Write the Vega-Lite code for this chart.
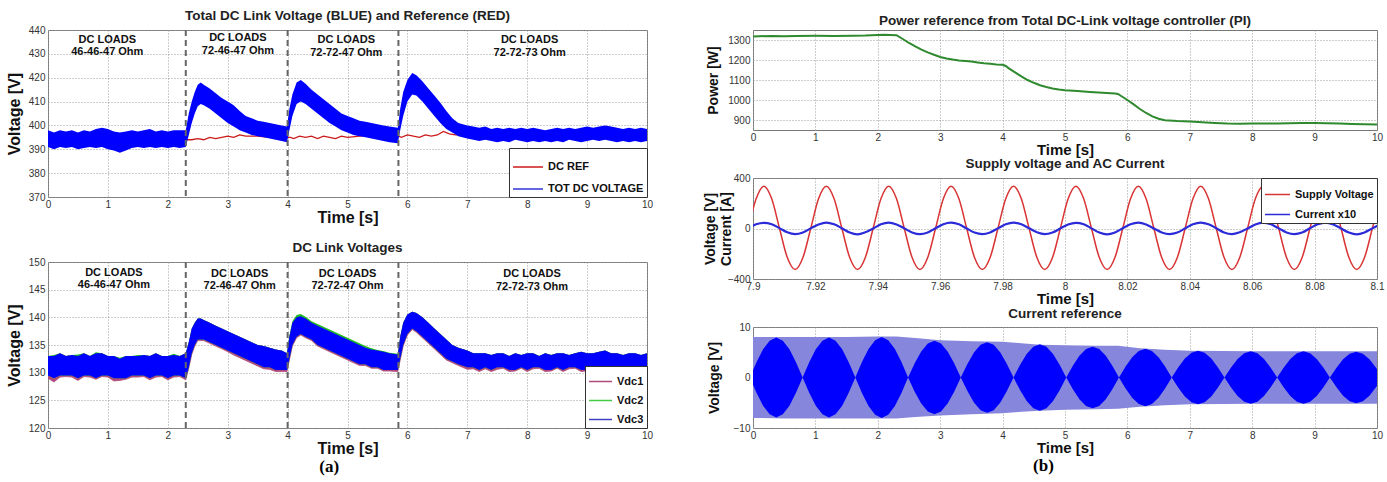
{
"$schema": "https://vega.github.io/schema/vega-lite/v6.json",
"background": "white",
"padding": {"left": 5, "top": 8, "right": 5, "bottom": 2},
"spacing": 48,
"resolve": {"scale": {"color": "independent"}, "legend": {"color": "independent"}},
"config": {
 "font": "Liberation Sans",
 "view": {"stroke": "#777", "strokeWidth": 1},
 "axis": {"domain": false, "ticks": false, "grid": true, "gridColor": "#9a9a9a", "gridDash": [1, 2], "gridWidth": 1, "labelFontSize": 10, "labelColor": "#333", "labelPadding": 3, "labelFlush": false, "labelOverlap": false, "titleFontSize": 16, "titleFontWeight": "bold", "titleColor": "#111"},
 "axisX": {"titlePadding": 0, "labelPadding": 2},
 "axisY": {"titleBaseline": "bottom"},
 "legend": {"offset": 0, "padding": 3, "strokeColor": "#333", "fillColor": "#ffffff", "symbolType": "stroke", "symbolStrokeWidth": 1.5, "labelFontSize": 11, "labelFontWeight": "bold", "labelColor": "#111", "rowPadding": 1, "labelOffset": 4},
 "title": {"fontSize": 13.5, "fontWeight": "bold", "color": "#222", "offset": 3}
},
"datasets": {
 "sw": [{"t": 2.3}, {"t": 4.0}, {"t": 5.85}],
 "p1band": [
  {"t":0,"lo":391,"hi":398},{"t":0.1,"lo":390,"hi":397},{"t":0.2,"lo":391,"hi":398},{"t":0.3,"lo":390.5,"hi":397.5},{"t":0.4,"lo":391,"hi":398},{"t":0.5,"lo":390,"hi":397},{"t":0.6,"lo":390.5,"hi":398},{"t":0.7,"lo":391,"hi":397.5},{"t":0.8,"lo":390.5,"hi":398.5},{"t":0.9,"lo":391,"hi":399},
  {"t":1.0,"lo":390,"hi":398.5},{"t":1.1,"lo":389.5,"hi":397.5},{"t":1.2,"lo":388.5,"hi":397},{"t":1.3,"lo":389.5,"hi":397.5},{"t":1.4,"lo":390.5,"hi":398},{"t":1.5,"lo":391,"hi":397.5},{"t":1.6,"lo":390.5,"hi":398},{"t":1.7,"lo":391,"hi":398.5},{"t":1.8,"lo":390.5,"hi":397.5},{"t":1.9,"lo":391,"hi":398},
  {"t":2.0,"lo":390.5,"hi":397.5},{"t":2.1,"lo":391,"hi":398},{"t":2.2,"lo":390.5,"hi":398},{"t":2.3,"lo":391,"hi":398},{"t":2.35,"lo":396,"hi":405},{"t":2.4,"lo":401,"hi":410},{"t":2.45,"lo":405,"hi":414},{"t":2.5,"lo":408,"hi":417},{"t":2.55,"lo":409,"hi":418},{"t":2.6,"lo":408.5,"hi":417},
  {"t":2.7,"lo":407,"hi":415.5},{"t":2.8,"lo":405,"hi":413.5},{"t":2.9,"lo":403,"hi":411.5},{"t":3.0,"lo":401,"hi":410},{"t":3.1,"lo":399.5,"hi":408.5},{"t":3.2,"lo":398,"hi":406},{"t":3.3,"lo":397,"hi":404},{"t":3.4,"lo":396,"hi":403},{"t":3.5,"lo":395.5,"hi":402},{"t":3.6,"lo":395,"hi":401.5},
  {"t":3.7,"lo":394.5,"hi":401},{"t":3.8,"lo":394,"hi":400.5},{"t":3.9,"lo":393.5,"hi":400},{"t":3.99,"lo":393,"hi":399.5},{"t":4.03,"lo":398,"hi":407},{"t":4.08,"lo":404,"hi":413},{"t":4.15,"lo":409,"hi":418},{"t":4.22,"lo":410,"hi":419},{"t":4.3,"lo":409,"hi":417.5},{"t":4.4,"lo":407,"hi":415},
  {"t":4.5,"lo":405,"hi":413},{"t":4.6,"lo":403,"hi":411},{"t":4.7,"lo":401,"hi":409},{"t":4.8,"lo":399.5,"hi":407},{"t":4.9,"lo":398,"hi":405},{"t":5.0,"lo":397,"hi":404},{"t":5.1,"lo":396,"hi":403},{"t":5.2,"lo":395.5,"hi":402},{"t":5.3,"lo":395,"hi":401.5},{"t":5.4,"lo":394.5,"hi":401},
  {"t":5.5,"lo":394,"hi":400.5},{"t":5.6,"lo":393.5,"hi":400},{"t":5.7,"lo":393,"hi":399.5},{"t":5.84,"lo":392.5,"hi":399},{"t":5.88,"lo":398,"hi":407},{"t":5.93,"lo":404,"hi":414},{"t":6.0,"lo":410,"hi":419},{"t":6.08,"lo":413,"hi":422},{"t":6.15,"lo":412.5,"hi":421},{"t":6.25,"lo":410,"hi":418.5},
  {"t":6.35,"lo":407,"hi":415.5},{"t":6.45,"lo":404,"hi":412.5},{"t":6.55,"lo":401,"hi":409.5},{"t":6.65,"lo":398.5,"hi":406},{"t":6.75,"lo":397,"hi":403},{"t":6.85,"lo":395.5,"hi":401},{"t":7.0,"lo":394.5,"hi":400},{"t":7.1,"lo":394,"hi":399.5},{"t":7.2,"lo":393.5,"hi":399},{"t":7.3,"lo":394,"hi":399.5},
  {"t":7.4,"lo":393.5,"hi":398.5},{"t":7.5,"lo":393,"hi":399},{"t":7.6,"lo":393.5,"hi":398.5},{"t":7.7,"lo":393,"hi":399},{"t":7.8,"lo":394,"hi":398.5},{"t":7.9,"lo":393.5,"hi":399},{"t":8.0,"lo":393,"hi":398.5},{"t":8.1,"lo":393.5,"hi":399},{"t":8.2,"lo":393,"hi":398.5},{"t":8.3,"lo":393.5,"hi":398},
  {"t":8.4,"lo":393,"hi":398.5},{"t":8.5,"lo":393.5,"hi":399},{"t":8.6,"lo":393,"hi":398.5},{"t":8.7,"lo":394,"hi":399},{"t":8.8,"lo":393.5,"hi":398.5},{"t":8.9,"lo":393,"hi":399},{"t":9.0,"lo":393.5,"hi":399.5},{"t":9.1,"lo":394,"hi":399},{"t":9.2,"lo":393.5,"hi":399.5},{"t":9.3,"lo":394,"hi":400},
  {"t":9.4,"lo":393.5,"hi":399.5},{"t":9.5,"lo":393,"hi":399},{"t":9.6,"lo":393.5,"hi":398.5},{"t":9.7,"lo":393,"hi":399},{"t":9.8,"lo":393.5,"hi":398.5},{"t":9.9,"lo":393,"hi":399},{"t":10.0,"lo":393.5,"hi":398.5}
 ],
 "p1ref": [
  {"t":0,"v":395},{"t":1,"v":395},{"t":2.3,"v":394},{"t":2.4,"v":394},{"t":2.5,"v":394.5},{"t":2.6,"v":394},{"t":2.7,"v":395},{"t":2.8,"v":394.5},{"t":2.9,"v":395},{"t":3.0,"v":395.5},{"t":3.1,"v":395},{"t":3.2,"v":396},{"t":3.3,"v":395.5},{"t":3.5,"v":395.5},{"t":3.7,"v":395},{"t":4.0,"v":395},
  {"t":4.05,"v":395},{"t":4.1,"v":394.5},{"t":4.2,"v":395.5},{"t":4.3,"v":395},{"t":4.4,"v":395.5},{"t":4.5,"v":394.5},{"t":4.6,"v":395.5},{"t":4.7,"v":395},{"t":4.8,"v":394.5},{"t":4.9,"v":395.5},{"t":5.0,"v":395},{"t":5.2,"v":395.5},{"t":5.4,"v":396},{"t":5.6,"v":395.5},{"t":5.85,"v":395.5},
  {"t":5.9,"v":395},{"t":6.0,"v":396},{"t":6.1,"v":395.5},{"t":6.2,"v":395},{"t":6.3,"v":396},{"t":6.4,"v":395.5},{"t":6.5,"v":396},{"t":6.6,"v":397.5},{"t":6.7,"v":396.5},{"t":6.8,"v":396},{"t":7.0,"v":396},{"t":8.0,"v":396},{"t":10,"v":396}
 ],
 "p1txt": [
  {"t":0.99,"y":435.8,"s":"DC LOADS"},{"t":0.99,"y":430.7,"s":"46-46-47 Ohm"},{"t":3.17,"y":436.5,"s":"DC LOADS"},{"t":3.17,"y":431.1,"s":"72-46-47 Ohm"},{"t":4.98,"y":435.6,"s":"DC LOADS"},{"t":4.98,"y":430.3,"s":"72-72-47 Ohm"},{"t":8.04,"y":435.6,"s":"DC LOADS"},{"t":8.04,"y":430.3,"s":"72-72-73 Ohm"}
 ],
 "p2band": [
  {"t":0,"a":129,"b":129.5,"c":133,"d":133},{"t":0.1,"a":128.3,"b":129,"c":133,"d":133.2},{"t":0.2,"a":129.2,"b":129.5,"c":133.5,"d":133.5},{"t":0.3,"a":129.3,"b":129.5,"c":133,"d":133},{"t":0.4,"a":129.2,"b":129.5,"c":133.2,"d":133.2},{"t":0.5,"a":128.6,"b":129,"c":133,"d":133.3},{"t":0.6,"a":129.3,"b":129.5,"c":133.5,"d":133.5},{"t":0.7,"a":129.2,"b":129.5,"c":133,"d":133},{"t":0.8,"a":128.8,"b":129,"c":133.5,"d":133.7},{"t":0.9,"a":129.3,"b":129.5,"c":133.5,"d":133.5},
  {"t":1.0,"a":129.2,"b":129.5,"c":133,"d":133},{"t":1.1,"a":128.5,"b":129,"c":133,"d":133},{"t":1.2,"a":128.6,"b":129,"c":132.5,"d":132.7},{"t":1.3,"a":128.8,"b":129,"c":133,"d":133},{"t":1.4,"a":129.2,"b":129.5,"c":133,"d":133},{"t":1.5,"a":129.2,"b":129.5,"c":133,"d":133.2},{"t":1.6,"a":129.3,"b":129.5,"c":133.2,"d":133.2},{"t":1.7,"a":128.7,"b":129,"c":133,"d":133},{"t":1.8,"a":129.2,"b":129.5,"c":133.5,"d":133.5},{"t":1.9,"a":129.3,"b":129.5,"c":133,"d":133},
  {"t":2.0,"a":128.7,"b":129,"c":133,"d":133},{"t":2.1,"a":129.2,"b":129.5,"c":133.2,"d":133.4},{"t":2.2,"a":129.3,"b":129.5,"c":133,"d":133},{"t":2.3,"a":128.7,"b":129,"c":133.5,"d":133.5},{"t":2.35,"a":130.8,"b":131,"c":135.5,"d":135.5},{"t":2.4,"a":133.3,"b":133.5,"c":138,"d":138},{"t":2.45,"a":134.8,"b":135,"c":139,"d":139},{"t":2.5,"a":135.8,"b":136,"c":139.8,"d":139.8},{"t":2.55,"a":135.8,"b":136,"c":139.8,"d":139.8},{"t":2.6,"a":135.8,"b":136,"c":139.5,"d":139.5},
  {"t":2.7,"a":135.3,"b":135.5,"c":139,"d":139},{"t":2.8,"a":134.8,"b":135,"c":138.5,"d":138.5},{"t":2.9,"a":134.3,"b":134.5,"c":138,"d":138},{"t":3.0,"a":133.8,"b":134,"c":137.5,"d":137.5},{"t":3.1,"a":133.2,"b":133.5,"c":137,"d":137},{"t":3.2,"a":132.7,"b":133,"c":136.5,"d":136.5},{"t":3.3,"a":132.2,"b":132.5,"c":136,"d":136},{"t":3.4,"a":131.7,"b":132,"c":135.5,"d":135.5},{"t":3.5,"a":131.2,"b":131.5,"c":135,"d":135},{"t":3.6,"a":130.7,"b":131,"c":134.8,"d":134.8},
  {"t":3.7,"a":130.6,"b":131,"c":134.5,"d":134.5},{"t":3.8,"a":130.2,"b":130.5,"c":134.2,"d":134.2},{"t":3.9,"a":130.2,"b":130.5,"c":134,"d":134},{"t":3.99,"a":130.2,"b":130.5,"c":133.5,"d":133.5},{"t":4.03,"a":132.3,"b":132.5,"c":136.5,"d":136.7},{"t":4.08,"a":134.8,"b":135,"c":139,"d":139.3},{"t":4.15,"a":136.3,"b":136.5,"c":140,"d":140.4},{"t":4.22,"a":136.8,"b":137,"c":140.2,"d":140.6},{"t":4.3,"a":136.3,"b":136.5,"c":139.8,"d":140.1},{"t":4.4,"a":135.8,"b":136,"c":139,"d":139.3},
  {"t":4.5,"a":134.8,"b":135,"c":138.5,"d":138.8},{"t":4.6,"a":134.3,"b":134.5,"c":138,"d":138.3},{"t":4.7,"a":133.8,"b":134,"c":137.5,"d":137.8},{"t":4.8,"a":133.3,"b":133.5,"c":137,"d":137.3},{"t":4.9,"a":132.8,"b":133,"c":136.5,"d":136.8},{"t":5.0,"a":132.3,"b":132.5,"c":136,"d":136.3},{"t":5.1,"a":131.8,"b":132,"c":135.5,"d":135.8},{"t":5.2,"a":131.3,"b":131.5,"c":135,"d":135.3},{"t":5.3,"a":131.3,"b":131.5,"c":134.5,"d":134.8},{"t":5.4,"a":130.8,"b":131,"c":134.2,"d":134.4},
  {"t":5.5,"a":130.8,"b":131,"c":134,"d":134.1},{"t":5.6,"a":130.3,"b":130.5,"c":133.8,"d":133.9},{"t":5.7,"a":130.3,"b":130.5,"c":133.5,"d":133.6},{"t":5.84,"a":130.2,"b":130.5,"c":133.3,"d":133.4},{"t":5.88,"a":132.3,"b":132.5,"c":136.5,"d":136.5},{"t":5.93,"a":134.8,"b":135,"c":139,"d":139},{"t":6.0,"a":136.8,"b":137,"c":140.5,"d":140.5},{"t":6.08,"a":137.8,"b":138,"c":141,"d":141},{"t":6.15,"a":137.3,"b":137.5,"c":140.8,"d":140.8},{"t":6.25,"a":136.3,"b":136.5,"c":140,"d":140},
  {"t":6.35,"a":135.3,"b":135.5,"c":139,"d":139},{"t":6.45,"a":134.3,"b":134.5,"c":138,"d":138},{"t":6.55,"a":133.3,"b":133.5,"c":137,"d":137},{"t":6.65,"a":132.3,"b":132.5,"c":136,"d":136},{"t":6.75,"a":131.8,"b":132,"c":135,"d":135},{"t":6.85,"a":131.3,"b":131.5,"c":134.5,"d":134.5},{"t":7.0,"a":130.6,"b":131,"c":134,"d":134},{"t":7.1,"a":130.7,"b":131,"c":133.5,"d":133.5},{"t":7.2,"a":130.2,"b":130.5,"c":133.5,"d":133.5},{"t":7.3,"a":130.7,"b":131,"c":133.5,"d":133.5},
  {"t":7.4,"a":130.2,"b":130.5,"c":133.2,"d":133.2},{"t":7.5,"a":130.6,"b":131,"c":133.5,"d":133.5},{"t":7.6,"a":130.8,"b":131,"c":133.5,"d":133.5},{"t":7.7,"a":130.2,"b":130.5,"c":133,"d":133},{"t":7.8,"a":130.3,"b":130.5,"c":133.5,"d":133.5},{"t":7.9,"a":130.8,"b":131,"c":133.2,"d":133.2},{"t":8.0,"a":130.2,"b":130.5,"c":133.5,"d":133.5},{"t":8.1,"a":130.7,"b":131,"c":133.5,"d":133.5},{"t":8.2,"a":130.8,"b":131,"c":133,"d":133},{"t":8.3,"a":130.2,"b":130.5,"c":133.5,"d":133.5},
  {"t":8.4,"a":130.3,"b":130.5,"c":133.2,"d":133.2},{"t":8.5,"a":130.8,"b":131,"c":133.5,"d":133.5},{"t":8.6,"a":130.2,"b":130.5,"c":133.5,"d":133.5},{"t":8.7,"a":130.7,"b":131,"c":133.2,"d":133.2},{"t":8.8,"a":130.8,"b":131,"c":133.5,"d":133.5},{"t":8.9,"a":130.2,"b":130.5,"c":133.8,"d":133.8},{"t":9.0,"a":130.3,"b":130.5,"c":133.5,"d":133.5},{"t":9.1,"a":130.8,"b":131,"c":133.5,"d":133.5},{"t":9.2,"a":130.2,"b":130.5,"c":133.8,"d":133.8},{"t":9.3,"a":130.7,"b":131,"c":134,"d":134},
  {"t":9.4,"a":130.8,"b":131,"c":133.5,"d":133.5},{"t":9.5,"a":130.2,"b":130.5,"c":133.5,"d":133.5},{"t":9.6,"a":130.3,"b":130.5,"c":133.2,"d":133.2},{"t":9.7,"a":130.8,"b":131,"c":133.5,"d":133.5},{"t":9.8,"a":130.2,"b":130.5,"c":133.5,"d":133.5},{"t":9.9,"a":130.3,"b":130.5,"c":133.2,"d":133.2},{"t":10.0,"a":130.7,"b":131,"c":133.5,"d":133.5}
 ],
 "p2txt": [
  {"t":1.1,"y":148.1,"s":"DC LOADS"},{"t":1.1,"y":145.9,"s":"46-46-47 Ohm"},{"t":3.2,"y":147.9,"s":"DC LOADS"},{"t":3.2,"y":145.6,"s":"72-46-47 Ohm"},{"t":5.0,"y":147.9,"s":"DC LOADS"},{"t":5.0,"y":145.6,"s":"72-72-47 Ohm"},{"t":8.08,"y":147.8,"s":"DC LOADS"},{"t":8.08,"y":145.4,"s":"72-72-73 Ohm"}
 ],
 "p3": [
  {"t":0,"p":1318},{"t":0.1,"p":1319},{"t":0.3,"p":1320},{"t":0.5,"p":1319},{"t":0.7,"p":1320},{"t":1.0,"p":1321},{"t":1.3,"p":1320},{"t":1.6,"p":1321},{"t":1.8,"p":1322},{"t":2.0,"p":1325},{"t":2.1,"p":1326},{"t":2.2,"p":1325},{"t":2.3,"p":1324},
  {"t":2.4,"p":1305},{"t":2.5,"p":1285},{"t":2.6,"p":1268},{"t":2.7,"p":1252},{"t":2.8,"p":1238},{"t":2.9,"p":1226},{"t":3.0,"p":1215},{"t":3.1,"p":1208},{"t":3.2,"p":1202},{"t":3.3,"p":1198},{"t":3.4,"p":1195},{"t":3.5,"p":1192},{"t":3.6,"p":1188},{"t":3.7,"p":1184},{"t":3.8,"p":1181},{"t":3.9,"p":1178},{"t":4.0,"p":1176},
  {"t":4.05,"p":1170},{"t":4.1,"p":1158},{"t":4.2,"p":1138},{"t":4.3,"p":1118},{"t":4.4,"p":1100},{"t":4.5,"p":1086},{"t":4.6,"p":1074},{"t":4.7,"p":1065},{"t":4.8,"p":1058},{"t":4.9,"p":1053},{"t":5.0,"p":1049},{"t":5.2,"p":1045},{"t":5.4,"p":1040},{"t":5.6,"p":1036},{"t":5.8,"p":1032},{"t":5.85,"p":1030},
  {"t":5.9,"p":1020},{"t":6.0,"p":1000},{"t":6.1,"p":978},{"t":6.2,"p":955},{"t":6.3,"p":935},{"t":6.4,"p":918},{"t":6.5,"p":906},{"t":6.6,"p":899},{"t":6.8,"p":895},{"t":7.0,"p":893},{"t":7.2,"p":889},{"t":7.4,"p":885},{"t":7.6,"p":882},{"t":7.8,"p":881},{"t":8.0,"p":882},{"t":8.2,"p":883},{"t":8.4,"p":882},{"t":8.6,"p":884},{"t":8.8,"p":885},{"t":9.0,"p":885},{"t":9.2,"p":884},{"t":9.4,"p":882},{"t":9.6,"p":880},{"t":9.8,"p":879},{"t":10,"p":877}
 ],
 "p4": [
  {"t":7.8985,"v":0,"i":2},{"t":7.901,"v":235,"i":33},{"t":7.9035,"v":335,"i":45},{"t":7.906,"v":235,"i":34},{"t":7.9085,"v":0,"i":3},{"t":7.911,"v":-230,"i":-30},{"t":7.9135,"v":-325,"i":-44},{"t":7.916,"v":-230,"i":-31},
  {"t":7.9185,"v":0,"i":1},{"t":7.921,"v":235,"i":32},{"t":7.9235,"v":335,"i":47},{"t":7.926,"v":235,"i":33},{"t":7.9285,"v":0,"i":2},{"t":7.931,"v":-230,"i":-32},{"t":7.9335,"v":-325,"i":-46},{"t":7.936,"v":-230,"i":-30},
  {"t":7.9385,"v":0,"i":0},{"t":7.941,"v":235,"i":33},{"t":7.9435,"v":335,"i":46},{"t":7.946,"v":235,"i":32},{"t":7.9485,"v":0,"i":1},{"t":7.951,"v":-230,"i":-31},{"t":7.9535,"v":-325,"i":-45},{"t":7.956,"v":-230,"i":-32},
  {"t":7.9585,"v":0,"i":2},{"t":7.961,"v":235,"i":34},{"t":7.9635,"v":335,"i":46},{"t":7.966,"v":235,"i":33},{"t":7.9685,"v":0,"i":0},{"t":7.971,"v":-230,"i":-32},{"t":7.9735,"v":-325,"i":-44},{"t":7.976,"v":-230,"i":-31},
  {"t":7.9785,"v":0,"i":1},{"t":7.981,"v":235,"i":33},{"t":7.9835,"v":335,"i":47},{"t":7.986,"v":235,"i":33},{"t":7.9885,"v":0,"i":2},{"t":7.991,"v":-230,"i":-30},{"t":7.9935,"v":-325,"i":-45},{"t":7.996,"v":-230,"i":-32},
  {"t":7.9985,"v":0,"i":0},{"t":8.001,"v":235,"i":32},{"t":8.0035,"v":335,"i":45},{"t":8.006,"v":235,"i":34},{"t":8.0085,"v":0,"i":1},{"t":8.011,"v":-230,"i":-32},{"t":8.0135,"v":-325,"i":-46},{"t":8.016,"v":-230,"i":-31},
  {"t":8.0185,"v":0,"i":2},{"t":8.021,"v":235,"i":33},{"t":8.0235,"v":335,"i":46},{"t":8.026,"v":235,"i":32},{"t":8.0285,"v":0,"i":0},{"t":8.031,"v":-230,"i":-31},{"t":8.0335,"v":-325,"i":-44},{"t":8.036,"v":-230,"i":-32},
  {"t":8.0385,"v":0,"i":1},{"t":8.041,"v":235,"i":34},{"t":8.0435,"v":335,"i":47},{"t":8.046,"v":235,"i":33},{"t":8.0485,"v":0,"i":2},{"t":8.051,"v":-230,"i":-32},{"t":8.0535,"v":-325,"i":-45},{"t":8.056,"v":-230,"i":-30},
  {"t":8.0585,"v":0,"i":0},{"t":8.061,"v":235,"i":32},{"t":8.0635,"v":335,"i":46},{"t":8.066,"v":235,"i":33},{"t":8.0685,"v":0,"i":1},{"t":8.071,"v":-230,"i":-31},{"t":8.0735,"v":-325,"i":-44},{"t":8.076,"v":-230,"i":-32},
  {"t":8.0785,"v":0,"i":2},{"t":8.081,"v":235,"i":33},{"t":8.0835,"v":335,"i":47},{"t":8.086,"v":235,"i":32},{"t":8.0885,"v":0,"i":0},{"t":8.091,"v":-230,"i":-32},{"t":8.0935,"v":-325,"i":-46},{"t":8.096,"v":-230,"i":-31},
  {"t":8.0985,"v":0,"i":1},{"t":8.101,"v":235,"i":33}
 ],
 "p5env": [
  {"t":0,"lo":-8.0,"hi":8.0},{"t":0.5,"lo":-8.1,"hi":8.0},{"t":1.0,"lo":-8.1,"hi":8.0},{"t":1.5,"lo":-8.1,"hi":8.0},{"t":2.0,"lo":-8.1,"hi":8.1},{"t":2.3,"lo":-8.1,"hi":8.1},{"t":2.6,"lo":-7.8,"hi":7.8},{"t":3.0,"lo":-7.5,"hi":7.4},{"t":3.5,"lo":-7.3,"hi":7.2},{"t":4.0,"lo":-7.1,"hi":7.1},{"t":4.3,"lo":-6.8,"hi":6.8},{"t":4.6,"lo":-6.6,"hi":6.5},{"t":5.0,"lo":-6.4,"hi":6.4},{"t":5.5,"lo":-6.3,"hi":6.3},{"t":5.85,"lo":-6.2,"hi":6.3},{"t":6.2,"lo":-5.8,"hi":5.8},{"t":6.6,"lo":-5.5,"hi":5.5},{"t":7.0,"lo":-5.3,"hi":5.3},{"t":8.0,"lo":-5.2,"hi":5.2},{"t":9.0,"lo":-5.2,"hi":5.2},{"t":10,"lo":-5.2,"hi":5.2}
 ],
 "p5lobe": [
  {"t":-0.05,"lo":0,"hi":0},{"t":0.056,"lo":-3.03,"hi":3.03},{"t":0.161,"lo":-5.59,"hi":5.59},{"t":0.267,"lo":-7.3,"hi":7.3},{"t":0.3725,"lo":-7.9,"hi":7.9},{"t":0.478,"lo":-7.3,"hi":7.3},{"t":0.584,"lo":-5.59,"hi":5.59},{"t":0.689,"lo":-3.03,"hi":3.03},
  {"t":0.795,"lo":0,"hi":0},{"t":0.901,"lo":-3.03,"hi":3.03},{"t":1.006,"lo":-5.59,"hi":5.59},{"t":1.112,"lo":-7.3,"hi":7.3},{"t":1.2175,"lo":-7.9,"hi":7.9},{"t":1.323,"lo":-7.3,"hi":7.3},{"t":1.429,"lo":-5.59,"hi":5.59},{"t":1.534,"lo":-3.03,"hi":3.03},
  {"t":1.64,"lo":0,"hi":0},{"t":1.746,"lo":-3.06,"hi":3.06},{"t":1.851,"lo":-5.66,"hi":5.66},{"t":1.957,"lo":-7.39,"hi":7.39},{"t":2.0625,"lo":-8.0,"hi":8.0},{"t":2.168,"lo":-7.39,"hi":7.39},{"t":2.274,"lo":-5.66,"hi":5.66},{"t":2.379,"lo":-3.06,"hi":3.06},
  {"t":2.485,"lo":0,"hi":0},{"t":2.591,"lo":-2.8,"hi":2.8},{"t":2.696,"lo":-5.16,"hi":5.16},{"t":2.802,"lo":-6.75,"hi":6.75},{"t":2.9075,"lo":-7.3,"hi":7.3},{"t":3.013,"lo":-6.75,"hi":6.75},{"t":3.119,"lo":-5.16,"hi":5.16},{"t":3.224,"lo":-2.8,"hi":2.8},
  {"t":3.33,"lo":0,"hi":0},{"t":3.436,"lo":-2.68,"hi":2.68},{"t":3.541,"lo":-4.95,"hi":4.95},{"t":3.647,"lo":-6.47,"hi":6.47},{"t":3.7525,"lo":-7.0,"hi":7.0},{"t":3.858,"lo":-6.47,"hi":6.47},{"t":3.964,"lo":-4.95,"hi":4.95},{"t":4.069,"lo":-2.68,"hi":2.68},
  {"t":4.175,"lo":0,"hi":0},{"t":4.281,"lo":-2.53,"hi":2.53},{"t":4.386,"lo":-4.67,"hi":4.67},{"t":4.492,"lo":-6.1,"hi":6.1},{"t":4.5975,"lo":-6.6,"hi":6.6},{"t":4.703,"lo":-6.1,"hi":6.1},{"t":4.809,"lo":-4.67,"hi":4.67},{"t":4.914,"lo":-2.53,"hi":2.53},
  {"t":5.02,"lo":0,"hi":0},{"t":5.126,"lo":-2.34,"hi":2.34},{"t":5.231,"lo":-4.31,"hi":4.31},{"t":5.337,"lo":-5.64,"hi":5.64},{"t":5.4425,"lo":-6.1,"hi":6.1},{"t":5.548,"lo":-5.64,"hi":5.64},{"t":5.654,"lo":-4.31,"hi":4.31},{"t":5.759,"lo":-2.34,"hi":2.34},
  {"t":5.865,"lo":0,"hi":0},{"t":5.971,"lo":-2.18,"hi":2.18},{"t":6.076,"lo":-4.03,"hi":4.03},{"t":6.182,"lo":-5.27,"hi":5.27},{"t":6.2875,"lo":-5.7,"hi":5.7},{"t":6.393,"lo":-5.27,"hi":5.27},{"t":6.499,"lo":-4.03,"hi":4.03},{"t":6.604,"lo":-2.18,"hi":2.18},
  {"t":6.71,"lo":0,"hi":0},{"t":6.816,"lo":-2.03,"hi":2.03},{"t":6.921,"lo":-3.75,"hi":3.75},{"t":7.027,"lo":-4.9,"hi":4.9},{"t":7.1325,"lo":-5.3,"hi":5.3},{"t":7.238,"lo":-4.9,"hi":4.9},{"t":7.344,"lo":-3.75,"hi":3.75},{"t":7.449,"lo":-2.03,"hi":2.03},
  {"t":7.555,"lo":0,"hi":0},{"t":7.661,"lo":-1.99,"hi":1.99},{"t":7.766,"lo":-3.68,"hi":3.68},{"t":7.872,"lo":-4.8,"hi":4.8},{"t":7.9775,"lo":-5.2,"hi":5.2},{"t":8.083,"lo":-4.8,"hi":4.8},{"t":8.189,"lo":-3.68,"hi":3.68},{"t":8.294,"lo":-1.99,"hi":1.99},
  {"t":8.4,"lo":0,"hi":0},{"t":8.506,"lo":-1.99,"hi":1.99},{"t":8.611,"lo":-3.68,"hi":3.68},{"t":8.717,"lo":-4.8,"hi":4.8},{"t":8.8225,"lo":-5.2,"hi":5.2},{"t":8.928,"lo":-4.8,"hi":4.8},{"t":9.034,"lo":-3.68,"hi":3.68},{"t":9.139,"lo":-1.99,"hi":1.99},
  {"t":9.245,"lo":0,"hi":0},{"t":9.351,"lo":-1.95,"hi":1.95},{"t":9.456,"lo":-3.61,"hi":3.61},{"t":9.562,"lo":-4.71,"hi":4.71},{"t":9.6675,"lo":-5.1,"hi":5.1},{"t":9.773,"lo":-4.71,"hi":4.71},{"t":9.879,"lo":-3.61,"hi":3.61},{"t":9.984,"lo":-1.95,"hi":1.95},
  {"t":10.09,"lo":0,"hi":0}
 ]
},
"hconcat": [
 {
  "bounds": "flush",
  "spacing": 65,
  "resolve": {"scale": {"color": "independent"}, "legend": {"color": "independent"}},
  "title": {"text": "(a)", "orient": "bottom", "anchor": "middle", "font": "Liberation Serif", "fontSize": 17, "fontWeight": "bold", "color": "#000", "offset": 2},
  "vconcat": [
   {
    "width": 599, "height": 167,
    "title": "Total DC Link Voltage (BLUE) and Reference (RED)",
    "encoding": {"x": {"field": "t", "type": "quantitative", "scale": {"domain": [0, 10], "nice": false}, "axis": {"values": [0,1,2,3,4,5,6,7,8,9,10], "title": "Time [s]"}}},
    "layer": [
     {"data": {"name": "p1ref"}, "mark": {"type": "line", "strokeWidth": 1.3, "clip": true},
      "encoding": {"y": {"field": "v", "type": "quantitative", "scale": {"domain": [370, 440], "nice": false, "zero": false}, "axis": {"values": [370,380,390,400,410,420,430,440], "labelOverlap": false, "title": "Voltage [V]", "titleX": -26}},
       "color": {"datum": "DC REF", "scale": {"domain": ["DC REF", "TOT DC VOLTAGE"], "range": ["#cc1a1a", "#3333dd"]}, "legend": {"title": null, "orient": "bottom-right", "symbolSize": 900}}}},
     {"data": {"name": "p1band"}, "mark": {"type": "area", "color": "#0000ff", "clip": true},
      "encoding": {"y": {"field": "lo", "type": "quantitative", "scale": {"domain": [370, 440], "nice": false, "zero": false}, "axis": {"values": [370,380,390,400,410,420,430,440], "labelOverlap": false, "title": "Voltage [V]", "titleX": -26}}, "y2": {"field": "hi"}}},
     {"data": {"name": "sw"}, "mark": {"type": "rule", "strokeDash": [6, 4], "color": "#666", "strokeWidth": 2}, "encoding": {}},
     {"data": {"name": "p1txt"}, "mark": {"type": "text", "fontSize": 11, "fontWeight": "bold", "color": "#111"},
      "encoding": {"y": {"field": "y", "type": "quantitative", "scale": {"domain": [370, 440], "nice": false, "zero": false}, "axis": {"values": [370,380,390,400,410,420,430,440], "labelOverlap": false, "title": "Voltage [V]", "titleX": -26}}, "text": {"field": "s"}}}
    ]
   },
   {
    "width": 599, "height": 166,
    "title": "DC Link Voltages",
    "encoding": {"x": {"field": "t", "type": "quantitative", "scale": {"domain": [0, 10], "nice": false}, "axis": {"values": [0,1,2,3,4,5,6,7,8,9,10], "title": "Time [s]"}}},
    "layer": [
     {"data": {"name": "p2band"}, "mark": {"type": "area", "color": "#b04a78", "clip": true},
      "encoding": {"y": {"field": "a", "type": "quantitative", "scale": {"domain": [120, 150], "nice": false, "zero": false}, "axis": {"values": [120,125,130,135,140,145,150], "labelOverlap": false, "title": "Voltage [V]", "titleX": -26}}, "y2": {"field": "c"}}},
     {"data": {"name": "p2band"}, "mark": {"type": "line", "strokeWidth": 0.8, "clip": true},
      "encoding": {"y": {"field": "a", "type": "quantitative", "scale": {"domain": [120, 150], "nice": false, "zero": false}, "axis": {"values": [120,125,130,135,140,145,150], "labelOverlap": false, "title": "Voltage [V]", "titleX": -26}},
       "color": {"datum": "Vdc1", "scale": {"domain": ["Vdc1", "Vdc2", "Vdc3"], "range": ["#b04a78", "#44cc44", "#4040c0"]}, "legend": {"title": null, "orient": "bottom-right", "symbolSize": 529}}}},
     {"data": {"name": "p2band"}, "mark": {"type": "area", "color": "#22bb22", "clip": true},
      "encoding": {"y": {"field": "b", "type": "quantitative", "scale": {"domain": [120, 150], "nice": false, "zero": false}, "axis": {"values": [120,125,130,135,140,145,150], "labelOverlap": false, "title": "Voltage [V]", "titleX": -26}}, "y2": {"field": "d"}}},
     {"data": {"name": "p2band"}, "mark": {"type": "area", "color": "#0000ff", "clip": true},
      "encoding": {"y": {"field": "b", "type": "quantitative", "scale": {"domain": [120, 150], "nice": false, "zero": false}, "axis": {"values": [120,125,130,135,140,145,150], "labelOverlap": false, "title": "Voltage [V]", "titleX": -26}}, "y2": {"field": "c"}}},
     {"data": {"name": "sw"}, "mark": {"type": "rule", "strokeDash": [6, 4], "color": "#666", "strokeWidth": 2}, "encoding": {}},
     {"data": {"name": "p2txt"}, "mark": {"type": "text", "fontSize": 11, "fontWeight": "bold", "color": "#111"},
      "encoding": {"y": {"field": "y", "type": "quantitative", "scale": {"domain": [120, 150], "nice": false, "zero": false}, "axis": {"values": [120,125,130,135,140,145,150], "labelOverlap": false, "title": "Voltage [V]", "titleX": -26}}, "text": {"field": "s"}}}
    ]
   }
  ]
 },
 {
  "bounds": "flush",
  "spacing": 48,
  "resolve": {"scale": {"color": "independent"}, "legend": {"color": "independent"}},
  "title": {"text": "(b)", "orient": "bottom", "anchor": "middle", "font": "Liberation Serif", "fontSize": 17, "fontWeight": "bold", "color": "#000", "offset": 2},
  "vconcat": [
   {
    "width": 624, "height": 100,
    "title": "Power reference from Total DC-Link voltage controller (PI)",
    "data": {"name": "p3"},
    "mark": {"type": "line", "color": "#2f8a2f", "strokeWidth": 2, "clip": true},
    "encoding": {
     "x": {"field": "t", "type": "quantitative", "scale": {"domain": [0, 10], "nice": false}, "axis": {"values": [0,1,2,3,4,5,6,7,8,9,10], "title": "Time [s]", "titleFontSize": 15}},
     "y": {"field": "p", "type": "quantitative", "scale": {"domain": [850, 1350], "nice": false, "zero": false}, "axis": {"values": [900,1000,1100,1200,1300], "format": "d", "title": "Power [W]", "titleX": -33, "titleFontSize": 14}}
    }
   },
   {
    "width": 624, "height": 101,
    "title": "Supply voltage and AC Current",
    "data": {"name": "p4"},
    "encoding": {"x": {"field": "t", "type": "quantitative", "scale": {"domain": [7.9, 8.1], "nice": false, "zero": false}, "axis": {"values": [7.9,7.92,7.94,7.96,7.98,8,8.02,8.04,8.06,8.08,8.1], "format": "~g", "title": "Time [s]", "titleFontSize": 15}}},
    "layer": [
     {"mark": {"type": "line", "strokeWidth": 1.5, "interpolate": "monotone", "clip": true},
      "encoding": {"y": {"field": "v", "type": "quantitative", "scale": {"domain": [-400, 400], "nice": false}, "axis": {"values": [-400,-200,0,200,400], "title": ["Voltage [V]", "Current [A]"], "titleX": -36, "titleFontSize": 14}},
       "color": {"datum": "Supply Voltage", "scale": {"domain": ["Supply Voltage", "Current x10"], "range": ["#d93434", "#2b2bd9"]}, "legend": {"title": null, "orient": "top-right", "symbolSize": 625}}}},
     {"mark": {"type": "line", "strokeWidth": 2.2, "interpolate": "monotone", "clip": true},
      "encoding": {"y": {"field": "i", "type": "quantitative", "scale": {"domain": [-400, 400], "nice": false}}, "color": {"datum": "Current x10"}}}
    ]
   },
   {
    "width": 624, "height": 101,
    "title": {"text": "Current reference", "offset": 2},
    "encoding": {"x": {"field": "t", "type": "quantitative", "scale": {"domain": [0, 10], "nice": false}, "axis": {"values": [0,1,2,3,4,5,6,7,8,9,10], "title": "Time [s]", "titleFontSize": 15}}},
    "layer": [
     {"data": {"name": "p5env"}, "mark": {"type": "area", "color": "#8686dc", "clip": true},
      "encoding": {"y": {"field": "lo", "type": "quantitative", "scale": {"domain": [-10, 10], "nice": false}, "axis": {"values": [-10,-5,0,5,10], "title": "Voltage [V]", "titleX": -32, "titleFontSize": 14}}, "y2": {"field": "hi"}}},
     {"data": {"name": "p5lobe"}, "mark": {"type": "area", "color": "#0000ff", "clip": true},
      "encoding": {"y": {"field": "lo", "type": "quantitative", "scale": {"domain": [-10, 10], "nice": false}}, "y2": {"field": "hi"}}}
    ]
   }
  ]
 }
]
}
